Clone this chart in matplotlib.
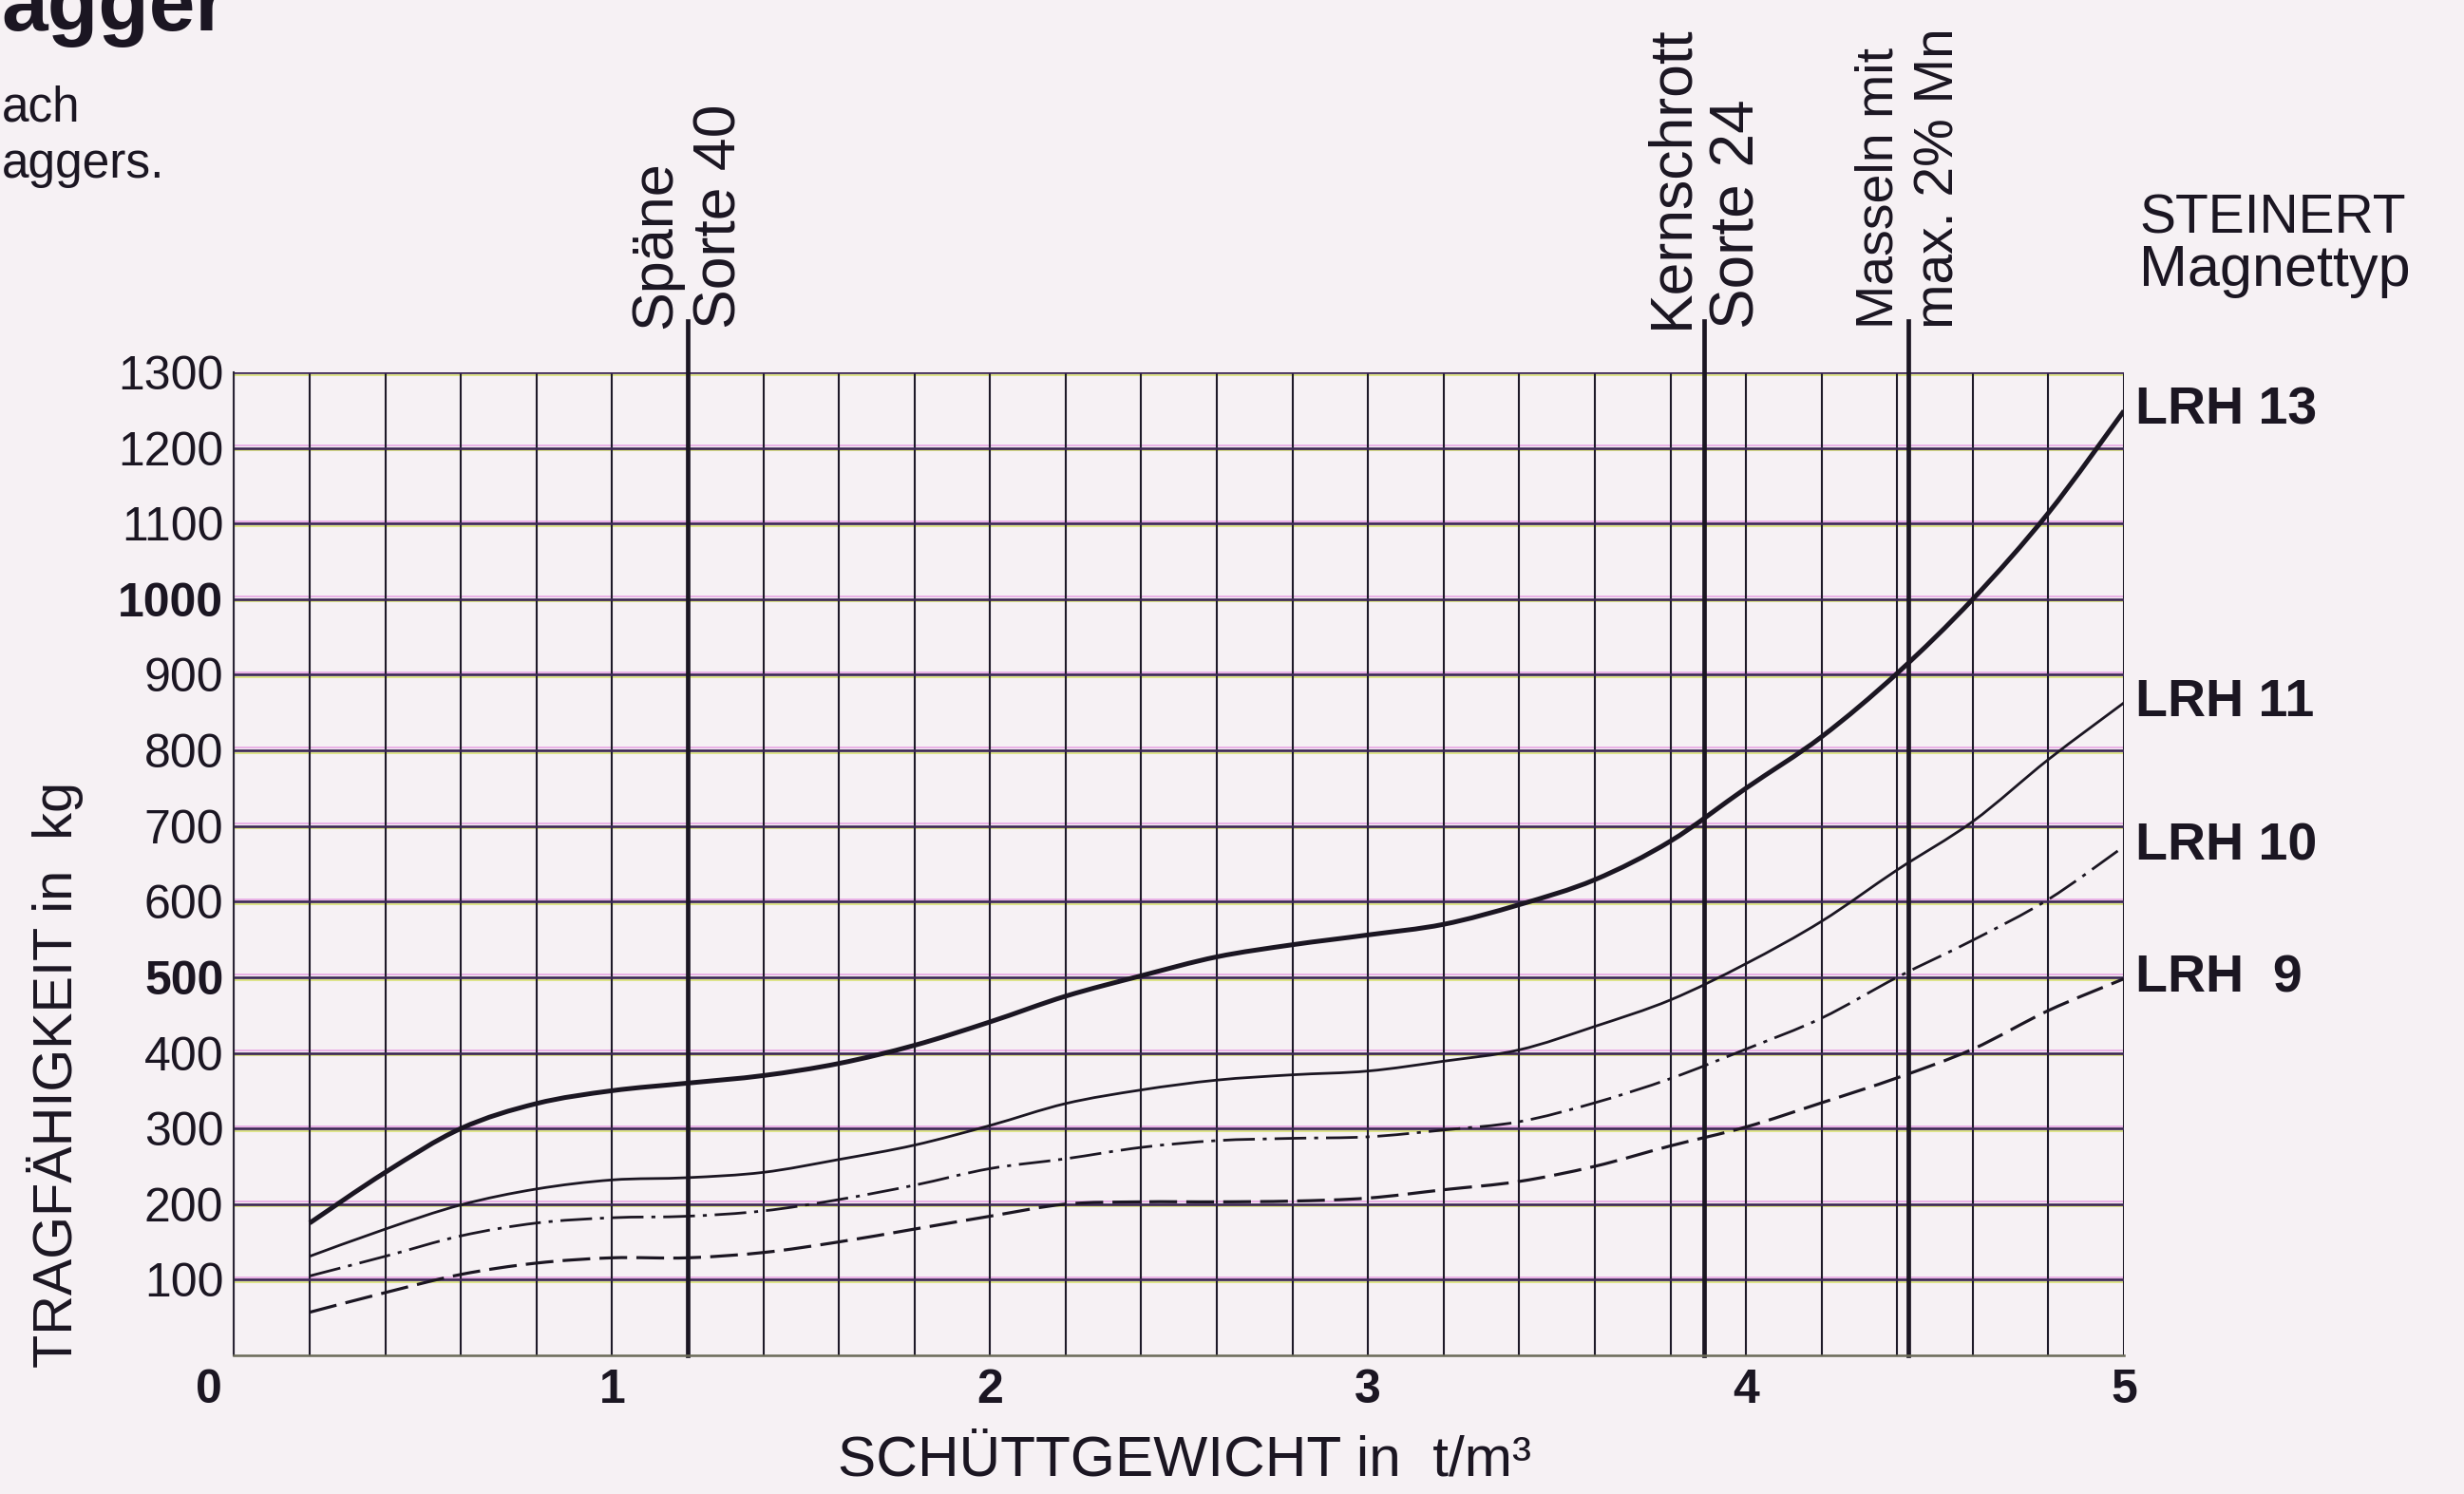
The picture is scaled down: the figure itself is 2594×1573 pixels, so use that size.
import matplotlib
matplotlib.use('Agg')
import matplotlib.pyplot as plt
import matplotlib.transforms as mtransforms
from matplotlib.path import Path
from matplotlib.patches import PathPatch
import numpy as np

plt.rcParams['font.family'] = ['Liberation Sans', 'DejaVu Sans']
plt.rcParams['lines.scale_dashes'] = False

# Schüttgewicht in t/m3 (x) and Tragfähigkeit in kg per magnet type
density = [0.2, 0.4, 0.6, 0.8, 1.0, 1.2, 1.4, 1.6, 1.8, 2.0, 2.2, 2.4, 2.6,
           2.8, 3.0, 3.2, 3.4, 3.6, 3.8, 4.0, 4.2, 4.4, 4.6, 4.8, 5.0]
lrh13 = [175, 242, 300, 333, 350, 360, 370, 386, 410, 441, 475, 502, 527,
         543, 556, 570, 596, 629, 680, 750, 818, 902, 1000, 1114, 1249]
lrh11 = [131, 167, 199, 220, 232, 235, 242, 259, 278, 304, 333, 351, 364,
         371, 376, 389, 404, 435, 470, 518, 574, 642, 706, 788, 863]
lrh10 = [105, 131, 158, 175, 182, 184, 191, 206, 225, 247, 260, 275, 284,
         287, 289, 298, 309, 334, 366, 405, 446, 500, 549, 603, 673]
lrh9 = [57, 83, 107, 122, 129, 129, 136, 150, 167, 184, 200, 203, 203,
        204, 208, 219, 230, 250, 277, 302, 334, 367, 405, 456, 498]
types = ['LRH 13', 'LRH 11', 'LRH 10', 'LRH  9']

# material reference lines
material_x = [1.2, 3.89, 4.43]
material_top = ['Späne', 'Kernschrott', 'Masseln mit']
material_sub = ['Sorte 40', 'Sorte 24', 'max. 2% Mn']
top_size = [44, 45, 40]
sub_size = [45, 46, 41]

bg = '#f6f1f4'
ink = '#1b1622'


def smooth_path(xs, ys):
    # cubic bezier through the read points (catmull-rom style handles)
    p = np.column_stack([xs, ys]).astype(float)
    pts = np.vstack([p[0], p, p[-1]])
    verts = [tuple(p[0])]
    codes = [Path.MOVETO]
    for i in range(1, len(pts) - 2):
        c1 = pts[i] + (pts[i + 1] - pts[i - 1]) / 6
        c2 = pts[i + 1] - (pts[i + 2] - pts[i]) / 6
        verts += [tuple(c1), tuple(c2), tuple(pts[i + 1])]
        codes += [Path.CURVE4] * 3
    return Path(verts, codes)


fig = plt.figure(figsize=(25.94, 15.73), dpi=100, facecolor=bg)
ax = fig.add_axes([0.0950, 0.0928, 0.7670, 0.6580])
ax.set_facecolor(bg)
ax.set_xlim(0, 5)
ax.set_ylim(0, 1300)

# grid
ax.set_xticks([0, 1, 2, 3, 4, 5])
ax.set_xticks(np.arange(0, 5.01, 0.2), minor=True)
ax.set_yticks(range(100, 1301, 100))
ax.grid(True, axis='x', which='both', color='#1e1a28', lw=1.5)
ax.grid(True, axis='y', which='major', color='#3b2654', lw=1.9)
ax.set_axisbelow(True)
# scan colour fringes along the horizontal rules
for yv in ax.get_yticks():
    for off, col in [(-2.6, '#d6df6a'), (2.6, '#e6a0e2')]:
        ln = ax.axhline(yv, color=col, lw=1.1, zorder=0.4)
        ln.set_transform(ln.get_transform() +
                         mtransforms.ScaledTranslation(0, off / 100, fig.dpi_scale_trans))
for s in ['top', 'right']:
    ax.spines[s].set_visible(False)
ax.spines['left'].set_color('#2a2535')
ax.spines['left'].set_linewidth(1.5)
ax.spines['bottom'].set_color('#6a6a58')
ax.spines['bottom'].set_linewidth(1.8)

ax.tick_params(axis='both', which='both', length=0)
ax.tick_params(axis='y', pad=8, labelsize=36, labelcolor=ink)
ax.tick_params(axis='x', pad=10, labelsize=36, labelcolor=ink)
ax.set_xticklabels(['0', '1', '2', '3', '4', '5'], fontweight='bold')
ylabels = ax.set_yticklabels([str(v) for v in range(100, 1301, 100)])
for lbl in ylabels:
    if lbl.get_text() in ('500', '1000'):
        lbl.set_fontweight('bold')
zero = ax.get_xticklabels()[0]
zero.set_transform(zero.get_transform() +
                   mtransforms.ScaledTranslation(-0.27, 0, fig.dpi_scale_trans))

# curves
styles = [dict(lw=3.6, linestyle='-'),
          dict(lw=2.0, linestyle='-'),
          dict(lw=2.0, linestyle=(0, (24, 6, 3, 6))),
          dict(lw=2.3, linestyle=(0, (21, 7)))]
for ys, st in zip([lrh13, lrh11, lrh10, lrh9], styles):
    ax.add_patch(PathPatch(smooth_path(density, ys), fill=False,
                           edgecolor=ink, capstyle='butt', **st))

for name, ys in zip(types, [lrh13, lrh11, lrh10, lrh9]):
    ax.annotate(name, xy=(density[-1], ys[-1]), xytext=(12, 0),
                textcoords='offset pixels', ha='left', va='center',
                fontsize=40, fontweight='bold', color=ink)

# material lines and rotated captions
for x, top, sub, ts, ss in zip(material_x, material_top, material_sub,
                               top_size, sub_size):
    ax.axvline(x, ymin=0, ymax=1.052, color=ink, lw=3.4, clip_on=False)
    ax.annotate(top, xy=(x, 1300), xytext=(-5, 46), textcoords='offset pixels',
                rotation=90, ha='right', va='bottom', fontsize=ts, color=ink)
    ax.annotate(sub, xy=(x, 1300), xytext=(5, 46), textcoords='offset pixels',
                rotation=90, ha='left', va='bottom', fontsize=ss, color=ink)

# legend heading
fig.text(2252 / 2594, 1 - 230 / 1573, 'STEINERT', fontsize=41, color=ink,
         ha='left', va='center')
fig.text(2252 / 2594, 1 - 285 / 1573, 'Magnettyp', fontsize=44, color=ink,
         ha='left', va='center')

# axis titles
fig.text(58 / 2594, 1 - 1440 / 1573, 'TRAGFÄHIGKEIT in  kg', rotation=90,
         fontsize=41.5, color=ink, ha='center', va='bottom')
fig.text(882 / 2594, 1 - 1538 / 1573, 'SCHÜTTGEWICHT in  t/m³',
         fontsize=43.5, color=ink, ha='left', va='center')

# page text at top-left, cut by the scan edge
fig.text(0.0005, 1 - 32 / 1573, 'agger', fontsize=63, fontweight='bold',
         color=ink, ha='left', va='baseline')
fig.text(0.0008, 1 - 128 / 1573, 'ach', fontsize=37, color=ink,
         ha='left', va='baseline')
fig.text(0.0008, 1 - 187 / 1573, 'aggers.', fontsize=37, color=ink,
         ha='left', va='baseline')

fig.savefig('out.png', dpi=100, facecolor=bg)
